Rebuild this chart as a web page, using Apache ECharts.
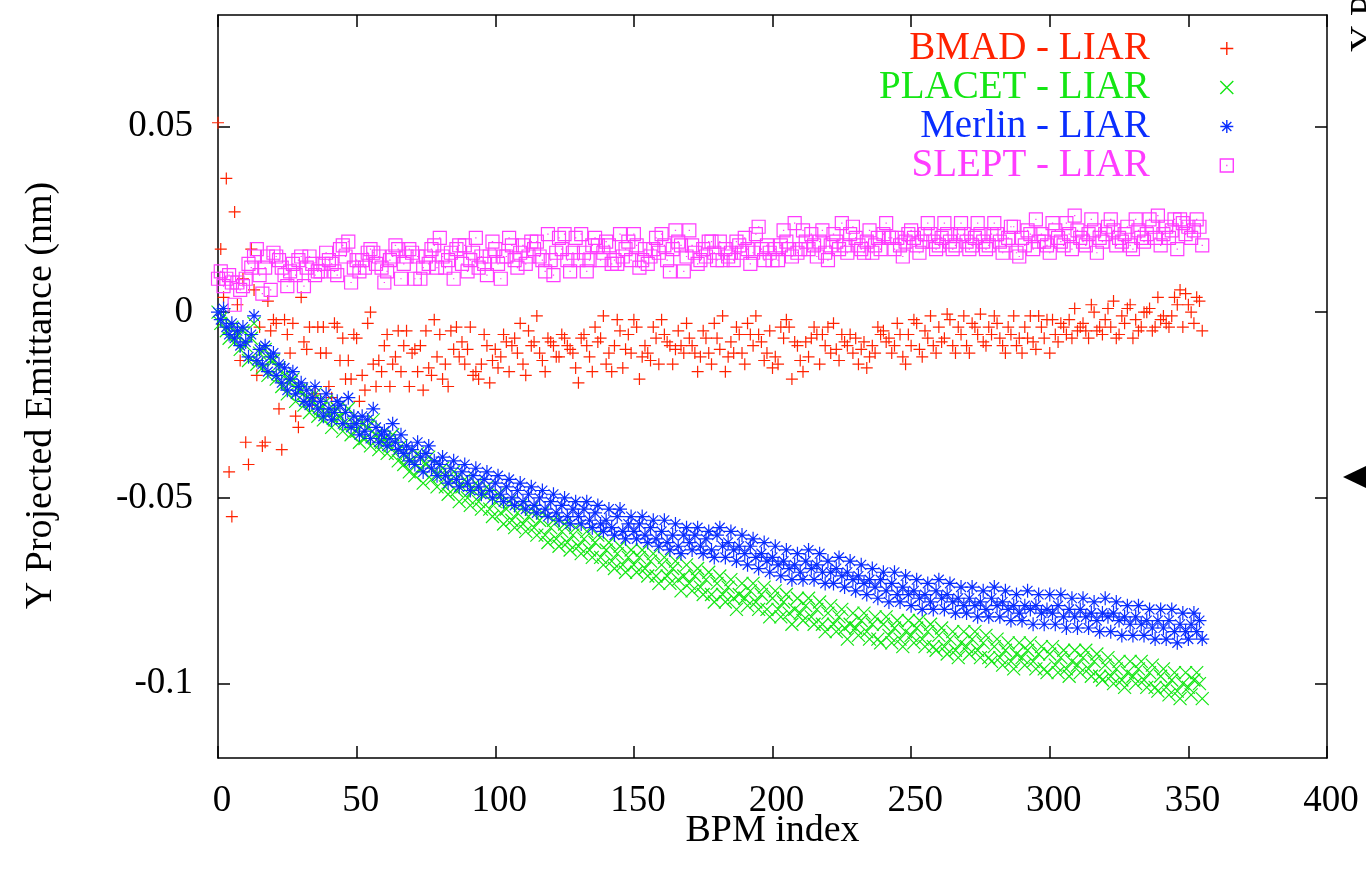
<!DOCTYPE html>
<html>
<head>
<meta charset="utf-8">
<script src="https://cdn.jsdelivr.net/npm/echarts@6/dist/echarts.min.js"></script>
<style>
  html, body { margin: 0; padding: 0; background: #ffffff; }
  #chart { width: 1366px; height: 871px; }
</style>
</head>
<body>
<div id="chart"></div>
<script>
// Projected vertical emittance difference of each code relative to LIAR,
// one value per BPM (index 0..355), stored in pm (1e-3 nm).
const bmadLiar = [
  51, 17, 4, 36, -43, -55, 27, 2, -13, 9,
  -35, -41, 17, 6, -17, -4, -36, -35, 3, -5,
  -2, -3, -26, -37, -2, -6, -11, -3, -28, -31,
  4, -8, -10, -4, -24, -22, -4, -11, -4, -11,
  -20, -23, -3, -4, -13, -7, -18, -13, -18, -6,
  -7, -24, -17, -21, -3, 0, -14, -20, -13, -16,
  -9, -6, -20, -14, -12, -5, -16, -9, -5, -20,
  -11, -10, -16, -9, -21, -5, -15, -17, -2, -12,
  -6, -18, -14, -20, -5, -10, -4, -12, -8, -14,
  -10, -4, -17, -16, -18, -14, -6, -9, -19, -13,
  -10, -15, -12, -6, -8, -16, -9, -7, -11, -3,
  -14, -17, -5, -9, -8, -1, -11, -13, -16, -7,
  -8, -9, -12, -12, -6, -7, -9, -10, -11, -15,
  -19, -7, -6, -9, -12, -16, -4, -8, -7, -1,
  -14, -11, -16, -9, -2, -5, -15, -10, -6, -11,
  -2, -4, -18, -12, -9, -11, -13, -4, -7, -14,
  -2, -6, -8, -9, -14, -10, -5, -9, -11, -3,
  -7, -9, -11, -16, -12, -5, -7, -11, -14, -3,
  -7, -10, -1, -16, -12, -8, -11, -4, -6, -11,
  -14, -3, -6, -9, -1, -6, -8, -13, -11, -5,
  -15, -12, -14, -4, -7, -2, -4, -18, -8, -9,
  -13, -16, -8, -12, -7, -4, -6, -14, -6, -9,
  -4, -11, -3, -10, -13, -6, -8, -9, -6, -11,
  -7, -14, -10, -8, -15, -12, -9, -11, -4, -6,
  -5, -8, -7, -11, -9, -3, -6, -12, -14, -6,
  -9, -2, -3, -10, -12, -5, -7, -1, -9, -11,
  -4, -8, -7, -0.5, -2, -9, -11, -4, -6, -1,
  -9, -11, -3, -4, -6, -0.5, -8, -9, -4, -6,
  -1, -3, -7, -9, -11, -4, -6, -1, -9, -7,
  -11, -4, -7, -1, -8, -10, -1, -4, -7, -2,
  -11, -2, -6, -8, -3, -4, -6, -2, -7, 1,
  -5, -4, -3, -5, -7, 2, 0, -5, -4, -6,
  -2, 1, -4, 3, -7, -6, -1, -3, 1, 2,
  -7, -2, -5, -4, 0, 0, 1, -5, -4, 4,
  -2, -1, -3, -4, -1, 4, 2, 6, -4, 5,
  2, 0, -3, 4, 3, -5
];

const placetLiar = [
  0, -3, -1, -5, -7, -4, -8, -6, -10, -5,
  -9, -13, -7, -3, -14, -11, -15, -10, -17, -13,
  -13, -18, -15, -20, -17, -22, -19, -18, -24, -21,
  -21, -25, -23, -27, -24, -22, -28, -26, -29, -24,
  -27, -31, -29, -26, -28, -32, -30, -26, -33, -30,
  -32, -35, -30, -34, -31, -36, -29, -33, -37, -35,
  -34, -38, -36, -33, -38, -40, -36, -41, -39, -43,
  -40, -44, -38, -42, -46, -41, -39, -45, -43, -47,
  -44, -42, -47, -49, -45, -43, -48, -51, -47, -45,
  -50, -52, -48, -46, -51, -53, -49, -47, -53, -55,
  -51, -49, -54, -57, -53, -51, -56, -58, -54, -52,
  -57, -59, -55, -53, -58, -60, -56, -54, -60, -62,
  -58, -56, -61, -63, -59, -57, -62, -64, -60, -58,
  -63, -65, -61, -59, -64, -66, -62, -60, -66, -68,
  -64, -62, -67, -69, -65, -63, -68, -70, -66, -64,
  -68, -70, -66, -64, -69, -71, -67, -65, -71, -73,
  -68, -66, -71, -73, -69, -67, -72, -75, -71, -68,
  -73, -75, -71, -69, -74, -76, -72, -70, -76, -78,
  -73, -71, -76, -78, -74, -72, -77, -80, -76, -73,
  -77, -79, -75, -73, -78, -80, -76, -74, -80, -82,
  -77, -75, -80, -82, -78, -76, -81, -84, -80, -77,
  -81, -83, -79, -77, -82, -84, -80, -78, -84, -86,
  -81, -79, -84, -86, -82, -80, -85, -88, -84, -81,
  -85, -87, -83, -81, -86, -88, -84, -82, -88, -89,
  -84, -82, -87, -89, -85, -83, -88, -90, -86, -83,
  -87, -89, -85, -83, -88, -90, -86, -84, -90, -91,
  -87, -85, -90, -92, -88, -86, -91, -93, -89, -86,
  -90, -92, -88, -86, -91, -93, -89, -87, -93, -94,
  -90, -88, -93, -95, -91, -89, -94, -96, -92, -89,
  -93, -95, -91, -89, -94, -96, -92, -90, -96, -97,
  -92, -90, -95, -97, -93, -91, -96, -98, -94, -91,
  -95, -97, -93, -91, -96, -98, -94, -92, -98, -99,
  -95, -93, -98, -100, -96, -94, -99, -101, -97, -94,
  -98, -100, -96, -94, -99, -101, -97, -95, -101, -102,
  -98, -96, -101, -103, -99, -97, -102, -104, -100, -97,
  -101, -103, -99, -97, -100, -104
];

const merlinLiar = [
  0, -2, 1, -4, -6, -3, -7, -5, -9, -4,
  -8, -12, -6, -1, -13, -10, -14, -9, -16, -12,
  -11, -17, -14, -19, -15, -21, -18, -16, -22, -20,
  -19, -24, -21, -25, -23, -20, -26, -24, -28, -22,
  -26, -29, -27, -24, -25, -30, -27, -23, -31, -28,
  -30, -33, -28, -32, -29, -34, -26, -31, -35, -33,
  -32, -36, -34, -30, -35, -37, -33, -38, -36, -40,
  -37, -41, -35, -39, -43, -38, -36, -42, -40, -44,
  -41, -39, -44, -46, -42, -40, -45, -47, -43, -41,
  -46, -48, -44, -42, -47, -49, -45, -43, -48, -50,
  -46, -44, -49, -51, -47, -45, -50, -52, -48, -46,
  -51, -53, -49, -47, -52, -54, -50, -48, -53, -55,
  -51, -49, -54, -56, -52, -50, -55, -57, -53, -51,
  -55, -57, -53, -51, -56, -58, -54, -52, -57, -59,
  -56, -53, -58, -60, -55, -53, -59, -61, -57, -55,
  -59, -61, -57, -55, -60, -62, -58, -56, -61, -63,
  -59, -56, -62, -64, -60, -57, -63, -65, -60, -58,
  -62, -64, -60, -58, -63, -65, -61, -59, -64, -66,
  -60, -58, -63, -66, -62, -59, -64, -67, -63, -60,
  -65, -68, -63, -61, -66, -69, -65, -62, -67, -70,
  -66, -63, -68, -71, -67, -64, -69, -72, -68, -65,
  -70, -72, -67, -64, -69, -72, -68, -65, -70, -73,
  -67, -70, -73, -69, -66, -71, -74, -70, -67, -72,
  -75, -71, -68, -73, -76, -72, -69, -74, -77, -72,
  -70, -75, -78, -73, -70, -76, -78, -74, -71, -76,
  -79, -75, -72, -77, -80, -76, -73, -78, -80, -75,
  -72, -77, -80, -76, -73, -78, -81, -77, -74, -79,
  -81, -77, -74, -79, -82, -78, -75, -80, -82, -77,
  -74, -79, -82, -78, -75, -80, -83, -79, -76, -81,
  -83, -79, -75, -80, -84, -79, -76, -81, -84, -80,
  -76, -81, -84, -79, -76, -82, -85, -80, -77, -82,
  -85, -80, -77, -82, -85, -81, -78, -83, -86, -81,
  -77, -82, -86, -81, -78, -83, -87, -82, -79, -84,
  -87, -82, -79, -84, -87, -83, -80, -85, -88, -83,
  -80, -85, -88, -83, -80, -86, -89, -84, -81, -86,
  -88, -84, -81, -86, -83, -88
];

const sleptLiar = [
  9, 11, 7, 9, 10, 8, 2, 8, 6, 7,
  9, 13, 12, 15, 17, 10, 5, 12, 15, 6,
  16, 15, 14, 12, 10, 7, 11, 13, 10, 14,
  15, 7, 12, 15, 13, 10, 11, 11, 13, 16,
  14, 13, 11, 10, 17, 18, 15, 19, 8, 12,
  14, 11, 14, 12, 16, 17, 16, 13, 15, 12,
  8, 11, 14, 15, 18, 17, 9, 13, 15, 17,
  16, 9, 15, 9, 12, 15, 13, 17, 18, 12,
  20, 15, 12, 14, 16, 9, 17, 18, 13, 18,
  11, 14, 16, 20, 12, 15, 13, 10, 15, 19,
  17, 13, 9, 15, 15, 20, 18, 14, 12, 16,
  18, 13, 15, 19, 17, 19, 15, 14, 11, 21,
  14, 10, 16, 20, 17, 21, 14, 11, 16, 20,
  14, 21, 16, 11, 14, 18, 20, 18, 14, 16,
  19, 18, 13, 14, 13, 21, 15, 17, 19, 14,
  21, 18, 12, 14, 17, 13, 15, 17, 20, 16,
  21, 18, 14, 11, 17, 22, 19, 18, 11, 15,
  22, 18, 16, 13, 14, 17, 15, 19, 19, 16,
  14, 19, 14, 17, 15, 16, 14, 19, 18, 16,
  20, 17, 13, 16, 21, 23, 17, 14, 18, 16,
  14, 17, 14, 18, 22, 19, 17, 15, 24, 16,
  17, 22, 19, 17, 21, 18, 15, 19, 22, 16,
  14, 18, 21, 19, 17, 24, 18, 16, 21, 23,
  20, 18, 17, 16, 19, 22, 16, 18, 20, 17,
  21, 24, 20, 20, 17, 20, 18, 15, 19, 21,
  22, 20, 18, 16, 19, 21, 24, 21, 19, 17,
  18, 20, 24, 21, 19, 17, 18, 21, 24, 21,
  19, 17, 18, 20, 24, 21, 19, 17, 18, 21,
  24, 21, 19, 16, 18, 20, 23, 23, 16, 15,
  20, 18, 22, 21, 17, 25, 19, 21, 19, 18,
  16, 24, 22, 20, 19, 18, 24, 21, 17, 26,
  22, 20, 19, 18, 21, 25, 22, 16, 20, 19,
  21, 23, 25, 22, 18, 20, 19, 21, 23, 18,
  17, 25, 22, 20, 19, 21, 25, 23, 20, 26,
  18, 21, 23, 20, 22, 25, 17, 25, 24, 21,
  23, 20, 22, 25, 23, 18
];

const seriesNames = ['BMAD - LIAR', 'PLACET - LIAR', 'Merlin - LIAR', 'SLEPT - LIAR'];
const yTickValues = [-0.1, -0.05, 0, 0.05];

const FONT = '"Liberation Serif", "Times New Roman", serif';
const COLORS = ['#ff2200', '#14e614', '#0a2eff', '#ff3cff'];
// gnuplot-style point types: plus, cross, asterisk, box with centre dot
const SYMBOLS = [
  'path://M0,5L10,5M5,0L5,10',
  'path://M0,0L10,10M0,10L10,0',
  'path://M0,5L10,5M5,0L5,10M1.5,1.5L8.5,8.5M1.5,8.5L8.5,1.5',
  'path://M0,0L10,0L10,10L0,10ZM4.5,5L5.5,5'
];
const SIZES = [12, 13, 14, 13];

// pm -> nm, paired with the BPM index
const toPoints = vals => vals.map((v, i) => [i, v / 1000]);
const seriesValues = [bmadLiar, placetLiar, merlinLiar, sleptLiar];

const axisLineStyle = { color: '#000', width: 1.5 };
const labelStyle = { fontFamily: FONT, fontSize: 37, color: '#000' };
const titleStyle = { fontFamily: FONT, fontSize: 38, color: '#000' };

const chart = echarts.init(document.getElementById('chart'), null, { renderer: 'canvas' });

chart.setOption({
  backgroundColor: '#ffffff',
  animation: false,
  grid: { left: 218, right: 39, top: 15, bottom: 113, containLabel: false },
  xAxis: [
    {
      type: 'value', min: 0, max: 400, interval: 50, position: 'bottom',
      axisLine: { show: true, onZero: false, lineStyle: axisLineStyle },
      axisTick: { show: true, inside: true, length: 12, lineStyle: axisLineStyle },
      axisLabel: Object.assign({ margin: 25, padding: [0, 0, 0, 8] }, labelStyle),
      splitLine: { show: false },
      name: 'BPM index', nameLocation: 'middle', nameGap: 54, nameMoveOverlap: false,
      nameTextStyle: titleStyle
    },
    {
      type: 'value', min: 0, max: 400, interval: 50, position: 'top',
      axisLine: { show: true, onZero: false, lineStyle: axisLineStyle },
      axisTick: { show: true, inside: true, length: 12, lineStyle: axisLineStyle },
      axisLabel: { show: false },
      splitLine: { show: false }
    }
  ],
  yAxis: [
    {
      type: 'value', min: -0.12, max: 0.08, position: 'left',
      axisLine: { show: true, onZero: false, lineStyle: axisLineStyle },
      axisTick: { show: true, inside: true, length: 12, customValues: yTickValues, lineStyle: axisLineStyle },
      axisLabel: Object.assign({ margin: 25, customValues: yTickValues }, labelStyle),
      splitLine: { show: false },
      name: 'Y Projected Emittance (nm)', nameLocation: 'middle', nameGap: 158,
      nameTextStyle: Object.assign({ padding: [0, 18, 0, 0] }, titleStyle)
    },
    {
      type: 'value', min: -0.12, max: 0.08, position: 'right',
      axisLine: { show: true, onZero: false, lineStyle: axisLineStyle },
      axisTick: { show: true, inside: true, length: 12, customValues: yTickValues, lineStyle: axisLineStyle },
      axisLabel: { show: false },
      splitLine: { show: false }
    }
  ],
  legend: {
    orient: 'vertical', align: 'right', right: 132, top: 29, padding: 0, itemGap: 0,
    itemWidth: 144, itemHeight: 13, symbolKeepAspect: true, selectedMode: false,
    textStyle: { fontFamily: FONT, fontSize: 39, lineHeight: 38.5 },
    data: seriesNames.map((n, k) => ({
      name: n,
      icon: SYMBOLS[k],
      itemStyle: { color: 'transparent', borderColor: COLORS[k], borderWidth: 1.4 },
      textStyle: { color: COLORS[k] }
    }))
  },
  series: seriesNames.map((n, k) => ({
    name: n,
    type: 'scatter',
    xAxisIndex: 0, yAxisIndex: 0,
    data: toPoints(seriesValues[k]),
    symbol: SYMBOLS[k],
    symbolSize: SIZES[k],
    symbolKeepAspect: true,
    itemStyle: { color: 'transparent', borderColor: COLORS[k], borderWidth: 1.2, opacity: 1 },
    emphasis: { disabled: true },
    silent: true
  })),
  graphic: [
    {
      type: 'text', x: 1366, y: 52, rotation: Math.PI / 2, silent: true,
      style: { text: 'Y Projected Emittance (nm)', font: '37px "Liberation Serif"', fill: '#000',
               textAlign: 'left', textVerticalAlign: 'middle' }
    },
    {
      type: 'polygon', silent: true,
      shape: { points: [[1343, 477], [1366, 466], [1366, 488]] },
      style: { fill: '#000' }
    }
  ]
});
</script>
</body>
</html>
